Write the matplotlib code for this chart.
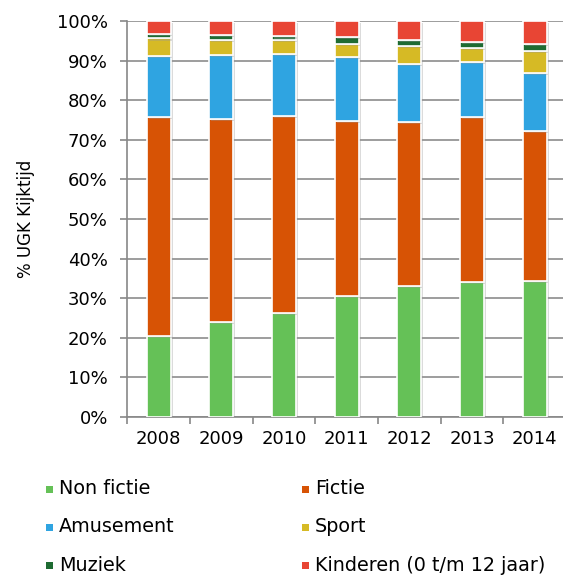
import numpy as np
import matplotlib.pyplot as plt
from matplotlib.patches import Rectangle
import matplotlib.patheffects as pe

# Data (% UGK kijktijd per genre)
jaren = ['2008', '2009', '2010', '2011', '2012', '2013', '2014']
non_fictie = [20.5, 23.9, 26.2, 30.6, 33.0, 34.2, 34.3]
fictie = [55.2, 51.3, 49.8, 44.1, 41.4, 41.5, 37.9]
amusement = [15.4, 16.2, 15.6, 16.2, 14.7, 13.9, 14.6]
sport = [4.5, 3.8, 3.5, 3.3, 4.6, 3.7, 5.6]
muziek = [1.2, 1.3, 1.0, 1.7, 1.5, 1.4, 1.8]
kinderen = [3.2, 3.5, 3.9, 4.1, 4.8, 5.3, 5.8]

namen = ['Non fictie', 'Fictie', 'Amusement', 'Sport', 'Muziek', 'Kinderen (0 t/m 12 jaar)']
kleuren = ['#65c157', '#d75305', '#2fa4e1', '#d6ba25', '#1e6b32', '#e84534']
reeksen = [non_fictie, fictie, amusement, sport, muziek, kinderen]

plt.rcParams['font.family'] = 'DejaVu Sans'
plt.rcParams['font.size'] = 13

W, H = 563, 576
fig = plt.figure(figsize=(W / 100, H / 100), dpi=100)
# assen lopen rechts iets buiten beeld, zoals in het origineel
ax_l, ax_r, ax_t, ax_b = 127.3, 566, 21, 417
ax = fig.add_axes([ax_l / W, 1 - ax_b / H, (ax_r - ax_l) / W, (ax_b - ax_t) / H])

x = np.arange(len(jaren))
bodem = np.zeros(len(jaren))
schaduw = [pe.SimplePatchShadow(offset=(1.5, -1.5), shadow_rgbFace='#999999', alpha=0.35), pe.Normal()]
for naam, kleur, waarden in zip(namen, kleuren, reeksen):
    balken = ax.bar(x, waarden, bottom=bodem, width=0.385, color=kleur,
                    edgecolor='white', linewidth=1.2, label=naam, zorder=3)
    for b in balken:
        b.set_path_effects(schaduw)
    bodem += np.array(waarden)

ax.set_xlim(-0.5, len(jaren) - 0.5)
ax.set_ylim(0, 100)
ax.set_yticks(np.arange(0, 101, 10))
ax.set_yticklabels([f'{v}%' for v in range(0, 101, 10)])
ax.set_xticks(x)
ax.set_xticklabels(jaren)
ax.set_xticks(np.arange(-0.5, len(jaren), 1), minor=True)
ax.tick_params(axis='x', which='major', length=0, pad=9)
ax.tick_params(axis='x', which='minor', length=5, color='#888888', width=1.2)
ax.tick_params(axis='y', length=5, color='#888888', width=1.2, pad=9)
ax.grid(axis='y', color='#8c8c8c', linewidth=1.2, zorder=0)
ax.set_axisbelow(True)
for s in ['top', 'right']:
    ax.spines[s].set_visible(False)
for s in ['left', 'bottom']:
    ax.spines[s].set_color('#888888')
    ax.spines[s].set_linewidth(1.2)
ax.set_ylabel('% UGK Kijktijd', fontsize=12)
ax.yaxis.set_label_coords(-(ax_l - 35) / (ax_r - ax_l), 0.5)

# legenda: twee kolommen, handmatig geplaatst
kolom_x = [46, 302]
rij_y = [489, 527, 565.5]
for i, (naam, kleur) in enumerate(zip(namen, kleuren)):
    lx = kolom_x[i % 2]
    ly = rij_y[i // 2]
    fig.patches.append(Rectangle((lx / W, 1 - (ly + 3.5) / H), 7 / W, 7 / H,
                                 transform=fig.transFigure, facecolor=kleur,
                                 edgecolor='none'))
    fig.text((lx + 13) / W, 1 - ly / H, naam, ha='left', va='center', fontsize=13.8)

fig.savefig('out.png', dpi=100)
